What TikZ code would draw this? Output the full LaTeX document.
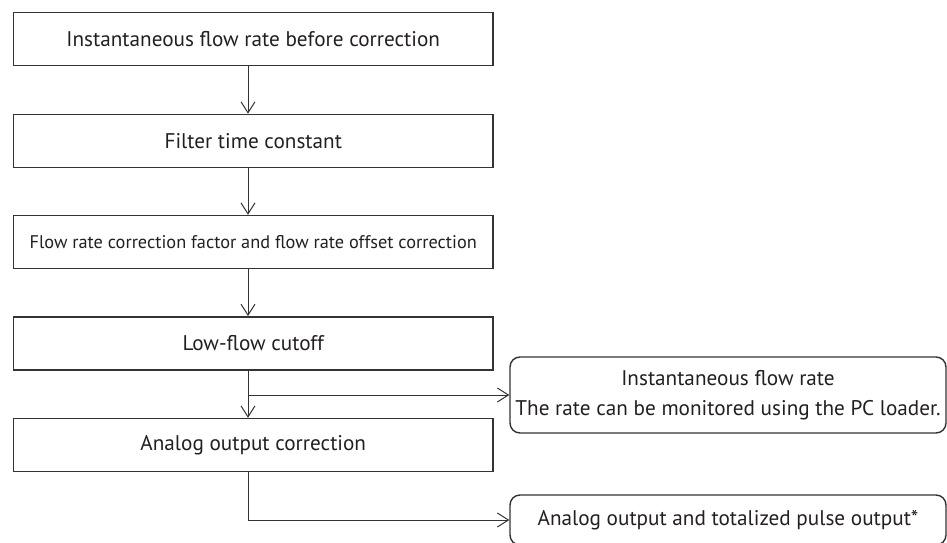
\documentclass[tikz,border=0pt]{standalone}
\usepackage{fontspec}
\setmainfont{PT Sans}
\usetikzlibrary{arrows.meta}
\definecolor{ln}{HTML}{333333}
\definecolor{tx}{HTML}{231F20}
\begin{document}
\begin{tikzpicture}[x=1pt,y=-1pt,
 box/.style={draw=ln,line width=1.4pt,minimum width=479.5pt,minimum height=53pt,inner sep=0pt,text=tx,font=\fontsize{21.2}{25}\selectfont},
 rbox/.style={draw=ln,line width=1.4pt,rounded corners=10pt,minimum width=436pt,inner sep=0pt,text=tx,align=center,font=\fontsize{21.2}{30}\selectfont},
 arr/.style={draw=ln,line width=1pt,-{Straight Barb[length=11pt,width=14pt]}}]
\useasboundingbox (0,0) rectangle (947,543);
\node[box] (b1) at (253.25,39.2) {Instantaneous flow rate before correction};
\node[box] (b2) at (253.25,140.9) {Filter time constant};
\node[box,font=\fontsize{18.3}{22}\selectfont] (b3) at (253.25,242) {Flow rate correction factor and flow rate offset correction};
\node[box] (b4) at (253.25,343.3) {Low-flow cutoff};
\node[box] (b5) at (253.25,445) {Analog output correction};
\node[rbox,minimum height=76pt] (r1) at (728,395) {Instantaneous flow rate\\The rate can be monitored using the PC loader.};
\node[rbox,minimum height=50pt] (r2) at (728,520) {Analog output and totalized pulse output*};
\coordinate (sp) at (248,0);
\draw[arr] (b1.south -| sp) -- (b2.north -| sp);
\draw[arr] (b2.south -| sp) -- (b3.north -| sp);
\draw[arr] (b3.south -| sp) -- (b4.north -| sp);
\draw[arr] (b4.south -| sp) -- (b5.north -| sp);
\draw[arr] (sp |- r1.west) -- (r1.west);
\draw[arr] (b5.south -| sp) |- (r2.west);
\end{tikzpicture}
\end{document}
